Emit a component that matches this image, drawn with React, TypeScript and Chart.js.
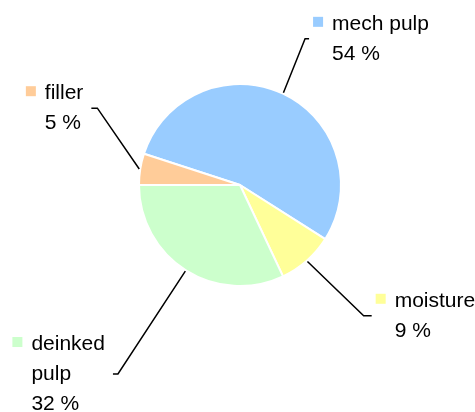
import React, { useEffect, useRef } from "react";
import { Chart, registerables } from "chart.js";

Chart.register(...registerables);

// ---- data ----
const categories = ["mech pulp", "moisture", "deinked pulp", "filler"];
const values = [54, 9, 32, 5];
const percentLabels = ["54 %", "9 %", "32 %", "5 %"];
const colors = ["#99CCFF", "#FFFF99", "#CCFFCC", "#FFCC99"];

// ---- layout (label placement) ----
const elbowDist = [160, 180, 225, 162]; // px from centre
const elbowAngleOffset = [-1.2, -2.0, 0.45, 19.3]; // degrees
const tickLen = [4, 8, 5, 6];
const wrapWidth = [200, 200, 80, 200];
const FONT = '21px "Liberation Sans", Arial, sans-serif';
const LINE_H = 30;

function wrap(ctx: CanvasRenderingContext2D, text: string, maxW: number): string[] {
  const words = text.split(" ");
  const lines: string[] = [];
  let cur = "";
  for (const w of words) {
    const t = cur ? cur + " " + w : w;
    if (cur && ctx.measureText(t).width > maxW) {
      lines.push(cur);
      cur = w;
    } else cur = t;
  }
  if (cur) lines.push(cur);
  return lines;
}

const labelPlugin = {
  id: "leaderLabels",
  afterDraw(chart: any) {
    const ctx: CanvasRenderingContext2D = chart.ctx;
    const meta = chart.getDatasetMeta(0);
    ctx.save();
    ctx.font = FONT;
    ctx.textBaseline = "alphabetic";
    meta.data.forEach((arc: any, i: number) => {
      const { x, y, startAngle, endAngle, outerRadius } = arc.getProps(
        ["x", "y", "startAngle", "endAngle", "outerRadius"],
        true
      );
      const mid = (startAngle + endAngle) / 2;
      const sx = x + Math.cos(mid) * (outerRadius + 1);
      const sy = y + Math.sin(mid) * (outerRadius + 1);
      const ea = mid + (elbowAngleOffset[i] * Math.PI) / 180;
      const ex = x + Math.cos(ea) * elbowDist[i];
      const ey = y + Math.sin(ea) * elbowDist[i];
      const right = Math.cos(ea) >= 0;
      const tx = ex + (right ? tickLen[i] : -tickLen[i]);
      ctx.strokeStyle = "#000";
      ctx.lineWidth = 1.5;
      ctx.beginPath();
      ctx.moveTo(sx, sy);
      ctx.lineTo(ex, ey);
      ctx.lineTo(tx, ey);
      ctx.stroke();

      const lines = [...wrap(ctx, categories[i], wrapWidth[i]), percentLabels[i]];
      const blockW = Math.max(...lines.map((l) => ctx.measureText(l).width));
      const textX = right ? tx + 23 : tx - 8 - blockW;
      const meanBase = ey + 6;
      const firstBase = meanBase - ((lines.length - 1) / 2) * LINE_H;
      ctx.fillStyle = colors[i];
      ctx.fillRect(textX - 19, firstBase - 13, 10, 10);
      ctx.fillStyle = "#000";
      ctx.textAlign = "left";
      lines.forEach((l, k) => ctx.fillText(l, textX, firstBase + k * LINE_H));
    });
    ctx.restore();
  },
};

export default function App() {
  const ref = useRef<HTMLCanvasElement>(null);
  useEffect(() => {
    if (!ref.current) return;
    const chart = new Chart(ref.current, {
      type: "pie",
      data: {
        labels: categories,
        datasets: [
          {
            data: values,
            backgroundColor: colors,
            borderColor: "#FFFFFF",
            borderWidth: 2,
          },
        ],
      },
      options: {
        responsive: false,
        animation: false,
        devicePixelRatio: 1,
        rotation: 288,
        layout: { padding: { left: 138, right: 133, top: 83, bottom: 125 } },
        plugins: { legend: { display: false }, tooltip: { enabled: false } },
      },
      plugins: [labelPlugin],
    });
    return () => chart.destroy();
  }, []);
  return (
    <div style={{ position: "absolute", left: 0, top: 0, width: 475, height: 412, background: "#fff" }}>
      <canvas ref={ref} width={475} height={412} />
    </div>
  );
}
